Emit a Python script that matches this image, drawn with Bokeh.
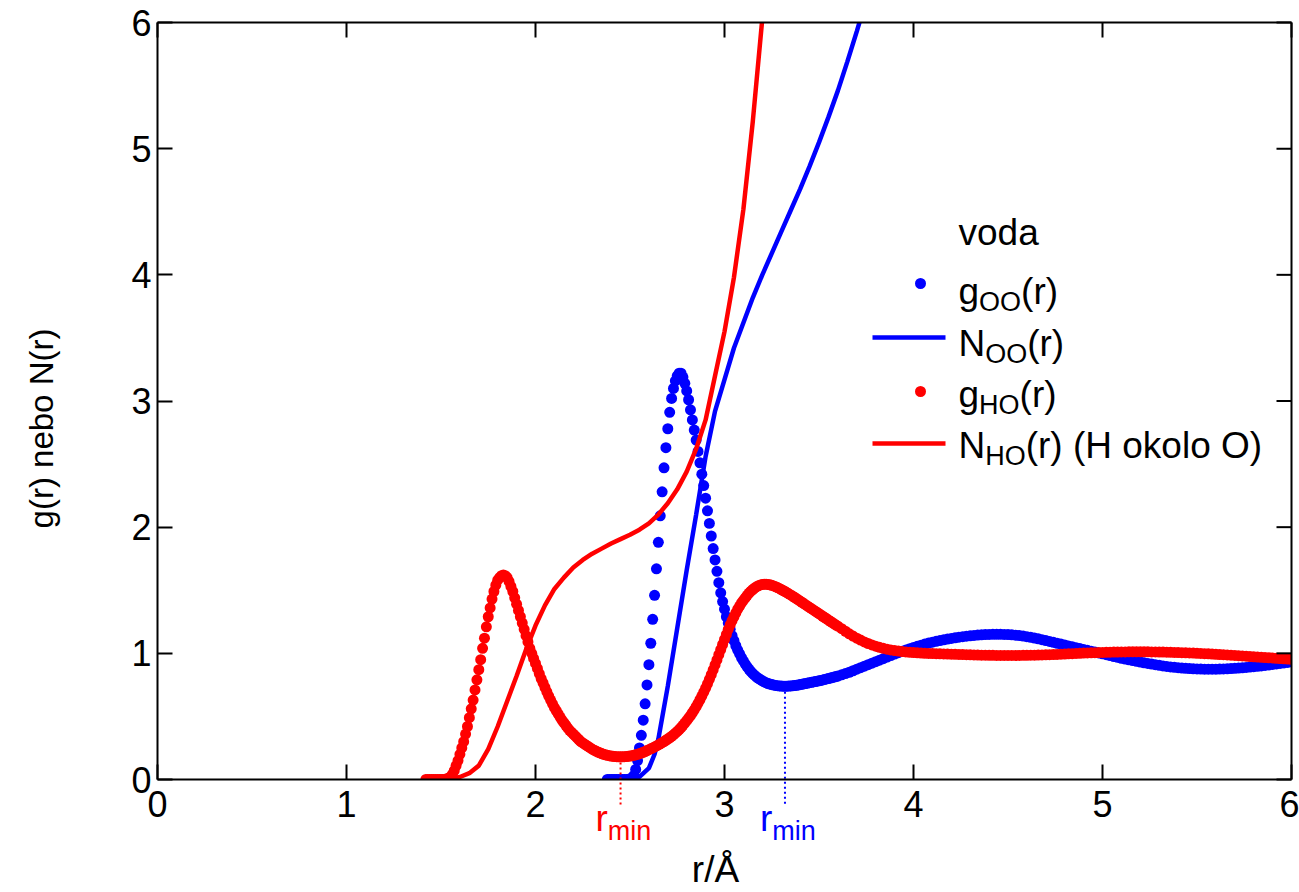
import numpy as np
from bokeh.plotting import figure
from bokeh.models import FixedTicker, Label, Range1d
from bokeh.embed import file_html
from bokeh.resources import INLINE

# ---------------- data ----------------
# g_HO(r): fine part r = 1.42 .. 3.59 (step 0.01), coarse part r = 3.60 .. 6.00 (step 0.02)
r_HO_fine = np.linspace(1.42, 3.59, 218)
g_HO_fine = [
    0, 0, 0, 0, 0, 0, 0, 0,
    0, 0, 0, 0.005, 0.01, 0.02, 0.04, 0.07, 0.11, 0.15,
    0.20, 0.25, 0.30, 0.36, 0.42, 0.49, 0.56, 0.63, 0.71, 0.79,
    0.87, 0.95, 1.04, 1.12, 1.21, 1.29, 1.36, 1.43, 1.49, 1.54,
    1.58, 1.60, 1.615, 1.62, 1.615, 1.60, 1.57, 1.53, 1.49, 1.44,
    1.39, 1.34, 1.29, 1.24, 1.19, 1.14, 1.09, 1.04, 1.00, 0.96,
    0.92, 0.88, 0.84, 0.80, 0.765, 0.73, 0.695, 0.66, 0.63, 0.60,
    0.57, 0.545, 0.52, 0.495, 0.47, 0.45, 0.43, 0.41, 0.39, 0.375,
    0.36, 0.345, 0.33, 0.315, 0.30, 0.29, 0.28, 0.27, 0.26, 0.25,
    0.24, 0.232, 0.225, 0.218, 0.212, 0.206, 0.20, 0.196, 0.192, 0.189,
    0.186, 0.184, 0.182, 0.181, 0.18, 0.18, 0.18, 0.181, 0.182, 0.184,
    0.186, 0.189, 0.192, 0.196, 0.20, 0.205, 0.21, 0.216, 0.222, 0.229,
    0.236, 0.243, 0.25, 0.258, 0.266, 0.274, 0.283, 0.292, 0.301, 0.311,
    0.321, 0.331, 0.342, 0.354, 0.367, 0.381, 0.396, 0.412, 0.429, 0.447,
    0.466, 0.486, 0.507, 0.529, 0.552, 0.577, 0.604, 0.632, 0.661, 0.692,
    0.724, 0.758, 0.794, 0.831, 0.869, 0.908, 0.948, 0.989, 1.03, 1.07,
    1.11, 1.15, 1.19, 1.225, 1.26, 1.29, 1.32, 1.35, 1.375, 1.40,
    1.42, 1.44, 1.46, 1.478, 1.493, 1.506, 1.518, 1.528, 1.536, 1.542,
    1.546, 1.548, 1.548, 1.546, 1.543, 1.539, 1.534, 1.528, 1.521, 1.514,
    1.506, 1.498, 1.49, 1.481, 1.472, 1.463, 1.454, 1.444, 1.434, 1.424,
    1.414, 1.404, 1.394, 1.384, 1.374, 1.364, 1.354, 1.344, 1.334, 1.324,
    1.314, 1.304, 1.294, 1.284, 1.274, 1.264, 1.254, 1.244, 1.234, 1.224,
]
r_coarse = np.linspace(3.60, 6.00, 121)
g_HO_coarse = [
    1.215, 1.195, 1.175, 1.155, 1.137, 1.12, 1.105, 1.09, 1.078, 1.067,
    1.057, 1.048, 1.04, 1.033, 1.027, 1.022, 1.018, 1.014, 1.011, 1.008,
    1.006, 1.004, 1.002, 1.0, 0.999, 0.998, 0.997, 0.996, 0.995, 0.994,
    0.993, 0.992, 0.991, 0.99, 0.989, 0.988, 0.987, 0.986, 0.985, 0.985,
    0.984, 0.984, 0.983, 0.983, 0.983, 0.983, 0.983, 0.983, 0.983, 0.984,
    0.984, 0.985, 0.985, 0.986, 0.987, 0.988, 0.989, 0.99, 0.991, 0.993,
    0.994, 0.996, 0.997, 0.999, 1.0, 1.002, 1.003, 1.004, 1.005, 1.006,
    1.007, 1.008, 1.009, 1.01, 1.01, 1.011, 1.011, 1.012, 1.012, 1.012,
    1.012, 1.012, 1.012, 1.011, 1.011, 1.01, 1.01, 1.009, 1.008, 1.007,
    1.006, 1.005, 1.004, 1.003, 1.002, 1.0, 0.999, 0.997, 0.996, 0.994,
    0.992, 0.99, 0.989, 0.987, 0.985, 0.983, 0.981, 0.979, 0.977, 0.975,
    0.973, 0.971, 0.969, 0.967, 0.965, 0.963, 0.961, 0.959, 0.957, 0.955,
    0.953,
]

# g_OO(r): fine part r = 2.38 .. 3.59 (step 0.01), coarse part r = 3.60 .. 6.00 (step 0.02)
r_OO_fine = np.linspace(2.38, 3.59, 122)
g_OO_fine = [
    0, 0,
    0, 0, 0, 0, 0, 0, 0, 0, 0, 0,
    0.005, 0.01, 0.03, 0.08, 0.15, 0.25, 0.35, 0.47, 0.60, 0.75,
    0.91, 1.08, 1.27, 1.46, 1.67, 1.88, 2.09, 2.28, 2.47, 2.63,
    2.78, 2.91, 3.02, 3.10, 3.16, 3.20, 3.22, 3.22, 3.19, 3.14,
    3.08, 3.01, 2.93, 2.85, 2.77, 2.69, 2.60, 2.51, 2.42, 2.33,
    2.23, 2.13, 2.03, 1.93, 1.83, 1.74, 1.65, 1.56, 1.48, 1.41,
    1.35, 1.29, 1.24, 1.19, 1.14, 1.10, 1.06, 1.025, 0.995, 0.965,
    0.94, 0.915, 0.893, 0.873, 0.855, 0.839, 0.825, 0.812, 0.801, 0.791,
    0.782, 0.774, 0.767, 0.761, 0.756, 0.752, 0.749, 0.746, 0.744, 0.742,
    0.741, 0.74, 0.74, 0.74, 0.741, 0.742, 0.743, 0.745, 0.747, 0.749,
    0.752, 0.755, 0.758, 0.761, 0.764, 0.767, 0.77, 0.773, 0.776, 0.779,
    0.782, 0.785, 0.789, 0.793, 0.797, 0.80, 0.804, 0.808, 0.812, 0.816,
]
g_OO_coarse = [
    0.82, 0.83, 0.84, 0.85, 0.862, 0.874, 0.886, 0.898, 0.91, 0.922,
    0.934, 0.946, 0.958, 0.97, 0.982, 0.994, 1.005, 1.016, 1.027, 1.037,
    1.047, 1.056, 1.065, 1.073, 1.081, 1.088, 1.095, 1.101, 1.107, 1.113,
    1.118, 1.123, 1.128, 1.132, 1.136, 1.139, 1.142, 1.145, 1.147, 1.149,
    1.15, 1.151, 1.151, 1.151, 1.15, 1.149, 1.147, 1.144, 1.141, 1.137,
    1.132, 1.127, 1.121, 1.115, 1.108, 1.101, 1.094, 1.087, 1.08, 1.073,
    1.066, 1.059, 1.052, 1.045, 1.038, 1.031, 1.024, 1.017, 1.01, 1.003,
    0.996, 0.989, 0.982, 0.975, 0.968, 0.961, 0.955, 0.949, 0.943, 0.937,
    0.931, 0.925, 0.92, 0.915, 0.91, 0.905, 0.90, 0.896, 0.892, 0.889,
    0.886, 0.883, 0.881, 0.879, 0.877, 0.876, 0.875, 0.874, 0.874, 0.874,
    0.874, 0.875, 0.876, 0.877, 0.879, 0.881, 0.883, 0.885, 0.888, 0.891,
    0.894, 0.897, 0.90, 0.904, 0.908, 0.912, 0.916, 0.92, 0.924, 0.928,
    0.932,
]

# running coordination numbers (up to where they leave the box at N = 6)
r_N_OO = [2.45, 2.50, 2.55, 2.60, 2.63, 2.65, 2.70, 2.75, 2.80, 2.85, 2.90, 2.95, 3.00,
          3.05, 3.10, 3.15, 3.20, 3.25, 3.30, 3.35, 3.40, 3.45, 3.50, 3.55, 3.60,
          3.65, 3.70, 3.72]
N_OO = [0.0, 0.003, 0.02, 0.09, 0.20, 0.32, 0.74, 1.20, 1.66, 2.10, 2.56, 2.92, 3.17,
        3.42, 3.62, 3.82, 4.00, 4.17, 4.34, 4.51, 4.68, 4.86, 5.05, 5.25, 5.46,
        5.69, 5.93, 6.03]

r_N_HO = [1.45, 1.50, 1.55, 1.60, 1.65, 1.70, 1.75, 1.80, 1.85, 1.90, 1.95, 2.00, 2.05,
          2.10, 2.15, 2.20, 2.25, 2.30, 2.35, 2.40, 2.45, 2.50, 2.55, 2.60, 2.65,
          2.70, 2.75, 2.80, 2.85, 2.90, 2.95, 3.00, 3.05, 3.10, 3.15, 3.20]
N_HO = [0.0, 0.0, 0.005, 0.02, 0.05, 0.11, 0.24, 0.42, 0.62, 0.82, 1.03, 1.22, 1.38,
        1.51, 1.60, 1.68, 1.74, 1.79, 1.83, 1.87, 1.905, 1.94, 1.98, 2.03, 2.10,
        2.19, 2.30, 2.44, 2.62, 2.85, 3.20, 3.55, 3.98, 4.52, 5.22, 6.03]

# first minima
rmin_HO, gmin_HO = 2.45, 0.18
rmin_OO, gmin_OO = 3.32, 0.74

x_ticks = [0, 1, 2, 3, 4, 5, 6]
y_ticks = [0, 1, 2, 3, 4, 5, 6]

assert len(g_HO_fine) == len(r_HO_fine)
assert len(g_OO_fine) == len(r_OO_fine)
assert len(g_HO_coarse) == len(r_coarse) == len(g_OO_coarse)
assert len(r_N_OO) == len(N_OO) and len(r_N_HO) == len(N_HO)

BLUE = "#0000ff"
RED = "#ff0000"
FONT = "Liberation Sans"
FS_TICK = 36
FS = 37
FS_SUB = 27

# geometry: the data box (0..6 x 0..6) spans x 157..1291, y 22..779 on the canvas.
# The frame covers the whole canvas so that every text and mark outside the box can be drawn.
W_PX, H_PX = 1299, 892
BOX_L, BOX_R, BOX_T, BOX_B = 157, 1291, 22, 779
PX_X = (BOX_R - BOX_L) / 6.0
PX_Y = (BOX_B - BOX_T) / 6.0
X_START = -BOX_L / PX_X
X_END = 6 + (W_PX - BOX_R) / PX_X
Y_START = -(H_PX - BOX_B) / PX_Y
Y_END = 6 + BOX_T / PX_Y


def x_of(px):
    return (px - BOX_L) / PX_X


def y_of(px):
    return (BOX_B - px) / PX_Y


# ---------------- figure ----------------
p = figure(width=W_PX, height=H_PX, x_range=Range1d(X_START, X_END),
           y_range=Range1d(Y_START, Y_END), output_backend="svg", toolbar_location=None,
           title=None, min_border=0)
p.xgrid.visible = False
p.ygrid.visible = False
p.outline_line_color = None
p.background_fill_color = "white"
p.border_fill_color = "white"

# ---------------- data glyphs ----------------
DOT = 11
p.scatter(np.concatenate([r_OO_fine, r_coarse]), g_OO_fine + g_OO_coarse,
          marker="circle", size=DOT, color=BLUE, line_color=None)
p.line(r_N_OO, N_OO, line_color=BLUE, line_width=4.5)
p.scatter(np.concatenate([r_HO_fine, r_coarse]), g_HO_fine + g_HO_coarse,
          marker="circle", size=DOT, color=RED, line_color=None)
p.line(r_N_HO, N_HO, line_color=RED, line_width=4.5)

# white masks: marks are clipped at the box edges
M = 1.0
p.quad(left=[X_START - M, X_START - M, 6], right=[X_END + M, X_END + M, X_END + M],
       bottom=[Y_START - M, 6, 0], top=[0, Y_END + M, 6], color="white", line_color=None)

# box: top and right edges with inward ticks (bottom and left are the axes)
p.segment(x0=[0, 6], y0=[6, 0], x1=[6, 6], y1=[6, 6], line_color="black", line_width=2)
p.segment(x0=x_ticks, y0=[6] * len(x_ticks), x1=x_ticks,
          y1=[6 - 15 / PX_Y] * len(x_ticks), line_color="black", line_width=2)
p.segment(x0=[6] * len(y_ticks), y0=y_ticks, x1=[6 - 15 / PX_X] * len(y_ticks),
          y1=y_ticks, line_color="black", line_width=2)


def base_axis(ax):
    ax.major_tick_in = 15
    ax.major_tick_out = 0
    ax.minor_tick_line_color = None
    ax.major_tick_line_width = 2
    ax.major_tick_line_color = "black"
    ax.axis_line_width = 2
    ax.axis_line_color = "black"
    ax.major_label_text_font = FONT
    ax.major_label_text_font_size = f"{FS_TICK}px"
    ax.major_label_text_color = "black"
    ax.fixed_location = 0
    ax.bounds = (0, 6)


xa = p.xaxis[0]
base_axis(xa)
xa.ticker = FixedTicker(ticks=x_ticks)
xa.major_label_standoff = 11

ya = p.yaxis[0]
base_axis(ya)
ya.ticker = FixedTicker(ticks=y_ticks)
ya.major_label_standoff = 6

# ---------------- r_min markers ----------------
for rm, gm, col in [(rmin_HO, gmin_HO, RED), (rmin_OO, gmin_OO, BLUE)]:
    p.segment(x0=[rm], y0=[gm - 0.045], x1=[rm], y1=[-0.2], line_color=col,
              line_width=2, line_dash="2 3")

W = {" ": 278, "(": 333, ")": 333, "/": 278, "g": 556, "r": 333, "N": 722, "O": 778,
     "H": 722, "o": 556, "k": 500, "l": 222, "m": 833, "i": 222, "n": 556, "v": 500,
     "d": 556, "a": 556}


def tw(s, size):
    return sum(W.get(c, 556) for c in s) / 1000.0 * size


def rich(x, base_px, parts, color, x0=0.0, drop=7):
    cur = x0
    for t, sub in parts:
        size = FS_SUB if sub else FS
        bl = base_px + (drop if sub else 0)
        mid = bl - 0.3465 * size
        p.add_layout(Label(x=x, y=y_of(mid), x_offset=cur, text=t,
                           text_font=FONT, text_font_size=f"{size}px", text_color=color,
                           text_baseline="middle", text_align="left"))
        cur += tw(t, size)


for rm, col in [(rmin_HO, RED), (rmin_OO, BLUE)]:
    rich(rm, 831, [("r", False), ("min", True)], col, x0=-25, drop=9)

# axis titles
p.add_layout(Label(x=x_of(715), y=y_of(882 - 0.3465 * FS), text="r/Å", text_font=FONT,
                   text_font_size=f"{FS}px", text_color="black",
                   text_align="center", text_baseline="middle"))
p.add_layout(Label(x=x_of(41), y=y_of(428), text="g(r) nebo N(r)", text_font=FONT,
                   text_font_size="33px", text_color="black", angle=np.pi / 2,
                   text_align="center", text_baseline="middle"))

# ---------------- legend ----------------
leg_x = x_of(958)
leg_sample = (x_of(872), x_of(945))
leg_dot_x = x_of(920)
row_base = [304, 356, 407, 458]

rich(leg_x, 245, [("voda", False)], "black")
rich(leg_x, row_base[0], [("g", False), ("OO", True), ("(r)", False)], "black")
rich(leg_x, row_base[1], [("N", False), ("OO", True), ("(r)", False)], "black")
rich(leg_x, row_base[2], [("g", False), ("HO", True), ("(r)", False)], "black")
rich(leg_x, row_base[3], [("N", False), ("HO", True), ("(r) (H okolo O)", False)], "black")

p.scatter([leg_dot_x], [y_of(row_base[0] - 21)], marker="circle", size=DOT, color=BLUE,
          line_color=None)
p.line(list(leg_sample), [y_of(row_base[1] - 19)] * 2, line_color=BLUE, line_width=4.5)
p.scatter([leg_dot_x], [y_of(row_base[2] - 16)], marker="circle", size=DOT, color=RED,
          line_color=None)
p.line(list(leg_sample), [y_of(row_base[3] - 15)] * 2, line_color=RED, line_width=4.5)

open("out.html", "w").write(file_html(p, INLINE))
